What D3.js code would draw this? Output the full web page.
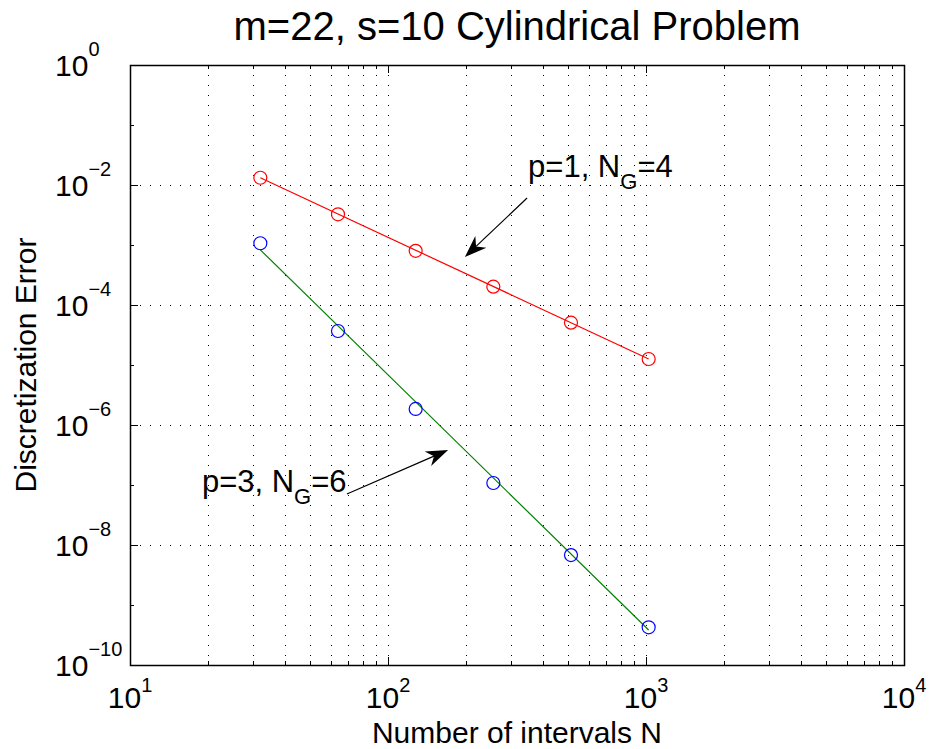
<!DOCTYPE html>
<html>
<head>
<meta charset="utf-8">
<script src="https://cdn.jsdelivr.net/npm/d3@7"></script>
<style>
  body { margin: 0; background: #fff; }
  text { font-family: "Liberation Sans", Arial, sans-serif; fill: #000; }
</style>
</head>
<body>
<div id="chart"></div>
<script>
// intervals N
var nValues = [32, 64, 128, 256, 512, 1024];
// p=1, NG=4 (red)
var errP1 = [1.32e-2, 3.25e-3, 8.0e-4, 2.02e-4, 5.07e-5, 1.26e-5];
// p=3, NG=6 (blue)
var errP3 = [1.07e-3, 3.69e-5, 1.85e-6, 1.08e-7, 6.8e-9, 4.25e-10];
// fitted lines, values at first and last N
var fitN = [32, 1024];
var fitP1 = [1.32e-2, 1.26e-5];
var fitP3 = [8.3e-4, 3.83e-10];

var xTickPowers = [1, 2, 3, 4];
var yTickPowers = [0, -2, -4, -6, -8, -10];

// annotation anchors in data units: [text N, text err, arrow start N, start err, tip N, tip err]
var noteP1 = [349, 1.36e-2, 346, 6.07e-3, 198.6, 6.3e-4];
var noteP3 = [19.0, 7.64e-8, 69.3, 7.08e-8, 171, 3.83e-7];

var width = 930, height = 749;
var margin = {left: 130, top: 65, right: 26, bottom: 84};

var svg = d3.select('#chart')
  .append('svg')
  .attr('width', width)
  .attr('height', height);

svg.append('rect').attr('width', width).attr('height', height).attr('fill', '#fff');

var x = d3.scaleLog()
  .domain([10, 1e4])
  .range([margin.left, width - margin.right]);

var y = d3.scaleLog()
  .domain([1e-10, 1])
  .range([height - margin.bottom, margin.top]);

function px(v) { return Math.round(x(v)) + 0.5; }
function py(v) { return Math.round(y(v)) + 0.5; }

var x0 = x.range()[0], x1 = x.range()[1];
var y0 = y.range()[1], y1 = y.range()[0];

// minor positions along x
var xMinor = [];
[10, 100, 1000].forEach(function (d) {
  for (var k = 1; k <= 10; k++) xMinor.push(d * k);
});
xMinor = xMinor.filter(function (v) { return v > 10 && v < 1e4; });

var grid = svg.append('g').attr('class', 'grid');
grid.selectAll('line.vx')
  .data(xMinor)
  .enter()
  .append('line')
  .attr('x1', function (d) { return px(d); })
  .attr('x2', function (d) { return px(d); })
  .attr('y1', y0)
  .attr('y2', y1)
  .attr('stroke', '#000')
  .attr('stroke-width', 1)
  .attr('stroke-dasharray', '1,9');

grid.selectAll('line.hy')
  .data(yTickPowers.filter(function (p) { return p < 0 && p > -10; }))
  .enter()
  .append('line')
  .attr('x1', x0)
  .attr('x2', x1)
  .attr('y1', function (d) { return py(Math.pow(10, d)); })
  .attr('y2', function (d) { return py(Math.pow(10, d)); })
  .attr('stroke', '#000')
  .attr('stroke-width', 1)
  .attr('stroke-dasharray', '1,9');

// ticks (inside, on all four sides)
var ticks = svg.append('g').attr('stroke', '#000').attr('stroke-width', 1);
xMinor.forEach(function (v) {
  var major = [100, 1000].indexOf(v) >= 0;
  var len = major ? 8 : 4;
  ticks.append('line').attr('x1', px(v)).attr('x2', px(v)).attr('y1', y1).attr('y2', y1 - len);
  ticks.append('line').attr('x1', px(v)).attr('x2', px(v)).attr('y1', y0).attr('y2', y0 + len);
});
for (var p = -9; p <= -1; p++) {
  var len = (p % 2 === 0) ? 8 : 4;
  ticks.append('line').attr('x1', x0).attr('x2', x0 + len).attr('y1', py(Math.pow(10, p))).attr('y2', py(Math.pow(10, p)));
  ticks.append('line').attr('x1', x1).attr('x2', x1 - len).attr('y1', py(Math.pow(10, p))).attr('y2', py(Math.pow(10, p)));
}

// axes box
svg.append('rect')
  .attr('x', Math.round(x0) + 0.5)
  .attr('y', Math.round(y0) + 0.5)
  .attr('width', Math.round(x1) - Math.round(x0))
  .attr('height', Math.round(y1) - Math.round(y0))
  .attr('fill', 'none')
  .attr('stroke', '#000')
  .attr('stroke-width', 1.5);

// x tick labels
svg.selectAll('text.xt')
  .data(xTickPowers)
  .enter()
  .append('text')
  .attr('x', function (d) { return x(Math.pow(10, d)); })
  .attr('y', 708)
  .attr('text-anchor', 'middle')
  .style('font-size', '30px')
  .each(function (d) {
    var t = d3.select(this);
    t.append('tspan').text('10');
    t.append('tspan').attr('dy', -16).style('font-size', '20px').text(d);
  });

// y tick labels
svg.selectAll('text.yt')
  .data(yTickPowers)
  .enter()
  .append('text')
  .attr('x', 55)
  .attr('y', function (d) { return y(Math.pow(10, d)) + 11; })
  .style('font-size', '30px')
  .each(function (d) {
    var t = d3.select(this);
    t.append('tspan').text('10');
    t.append('tspan').attr('dy', -20).style('font-size', '20px').text(d < 0 ? '\u2212' + (-d) : d);
  });

// titles
svg.append('text')
  .attr('x', (x0 + x1) / 2)
  .attr('y', 40)
  .attr('text-anchor', 'middle')
  .style('font-size', '40px')
  .text('m=22, s=10 Cylindrical Problem');

svg.append('text')
  .attr('x', (x0 + x1) / 2)
  .attr('y', 743)
  .attr('text-anchor', 'middle')
  .style('font-size', '30px')
  .text('Number of intervals N');

svg.append('text')
  .attr('transform', 'translate(36,' + ((y0 + y1) / 2) + ') rotate(-90)')
  .attr('text-anchor', 'middle')
  .style('font-size', '30px')
  .text('Discretization Error');

// fitted lines
var line = d3.line()
  .x(function (d) { return x(d[0]); })
  .y(function (d) { return y(d[1]); });

svg.append('path')
  .attr('d', line(d3.zip(fitN, fitP1)))
  .attr('fill', 'none')
  .attr('stroke', '#ff0000')
  .attr('stroke-width', 1.2);

svg.append('path')
  .attr('d', line(d3.zip(fitN, fitP3)))
  .attr('fill', 'none')
  .attr('stroke', '#008000')
  .attr('stroke-width', 1.2);

// data markers
svg.selectAll('circle.p1')
  .data(d3.zip(nValues, errP1))
  .enter()
  .append('circle')
  .attr('cx', function (d) { return x(d[0]); })
  .attr('cy', function (d) { return y(d[1]); })
  .attr('r', 6.5)
  .attr('fill', 'none')
  .attr('stroke', '#ff0000')
  .attr('stroke-width', 1.2);

svg.selectAll('circle.p3')
  .data(d3.zip(nValues, errP3))
  .enter()
  .append('circle')
  .attr('cx', function (d) { return x(d[0]); })
  .attr('cy', function (d) { return y(d[1]); })
  .attr('r', 6.5)
  .attr('fill', 'none')
  .attr('stroke', '#0000ff')
  .attr('stroke-width', 1.2);

// annotations
function annotate(note, label, sub, tail) {
  var t = svg.append('text')
    .attr('x', x(note[0]))
    .attr('y', y(note[1]))
    .style('font-size', '31px');
  t.append('tspan').text(label);
  t.append('tspan').attr('dy', 12).style('font-size', '22px').text(sub);
  t.append('tspan').attr('dy', -12).text(tail);

  var sx = x(note[2]), sy = y(note[3]);
  var tx = x(note[4]), ty = y(note[5]);
  var ang = Math.atan2(ty - sy, tx - sx);
  var L = 22, W = 8;
  var bx = tx - L * Math.cos(ang), by = ty - L * Math.sin(ang);
  var nx = tx - 0.7 * L * Math.cos(ang), ny = ty - 0.7 * L * Math.sin(ang);
  svg.append('line')
    .attr('x1', sx).attr('y1', sy)
    .attr('x2', nx).attr('y2', ny)
    .attr('stroke', '#000')
    .attr('stroke-width', 1.2);
  var pts = [
    [tx, ty],
    [bx - W * Math.sin(ang), by + W * Math.cos(ang)],
    [nx, ny],
    [bx + W * Math.sin(ang), by - W * Math.cos(ang)]
  ];
  svg.append('polygon')
    .attr('points', pts.map(function (q) { return q.join(','); }).join(' '))
    .attr('fill', '#000');
}

annotate(noteP1, 'p=1, N', 'G', '=4');
annotate(noteP3, 'p=3, N', 'G', '=6');
</script>
</body>
</html>
